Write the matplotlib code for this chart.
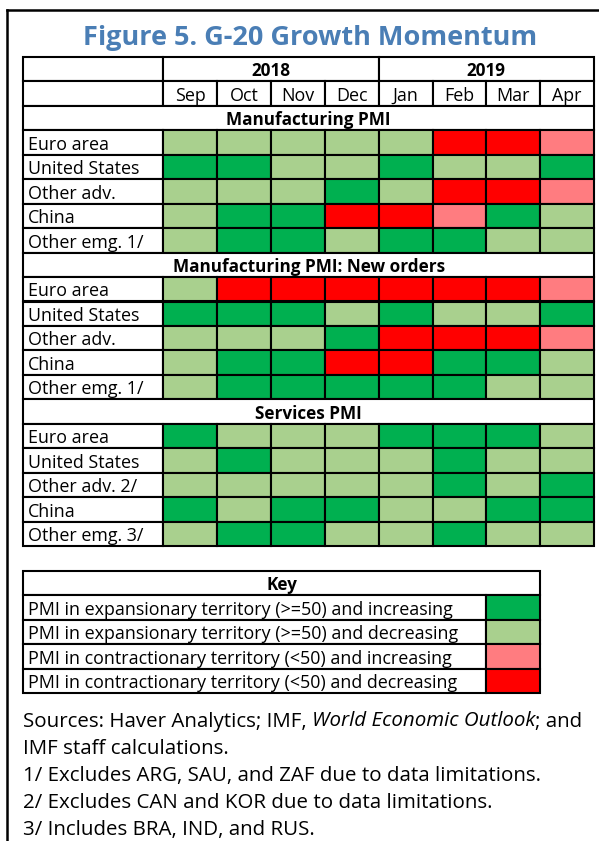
import matplotlib
matplotlib.use("Agg")
import matplotlib.pyplot as plt
from matplotlib.patches import Rectangle

plt.rcParams["font.family"] = ["Open Sans", "DejaVu Sans"]

# ---------------- data ----------------
title = "Figure 5. G-20 Growth Momentum"
years = ["2018", "2019"]
year_spans = [4, 4]
months = ["Sep", "Oct", "Nov", "Dec", "Jan", "Feb", "Mar", "Apr"]
sections = ["Manufacturing PMI", "Manufacturing PMI: New orders", "Services PMI"]

# status codes: 0 = expansion & increasing, 1 = expansion & decreasing,
#               2 = contraction & increasing, 3 = contraction & decreasing
mfg_rows = ["Euro area", "United States", "Other adv.", "China", "Other emg. 1/"]
mfg_status = [
    [1, 1, 1, 1, 1, 3, 3, 2],
    [0, 0, 1, 1, 0, 1, 1, 0],
    [1, 1, 1, 0, 1, 3, 3, 2],
    [1, 0, 0, 3, 3, 2, 0, 1],
    [1, 0, 0, 1, 0, 0, 1, 1],
]
orders_rows = ["Euro area", "United States", "Other adv.", "China", "Other emg. 1/"]
orders_status = [
    [1, 3, 3, 3, 3, 3, 3, 2],
    [0, 0, 0, 1, 0, 1, 1, 0],
    [1, 1, 1, 0, 3, 3, 3, 2],
    [1, 0, 0, 3, 3, 0, 0, 1],
    [1, 0, 0, 0, 0, 0, 1, 1],
]
serv_rows = ["Euro area", "United States", "Other adv. 2/", "China", "Other emg. 3/"]
serv_status = [
    [0, 1, 1, 1, 0, 0, 0, 1],
    [1, 0, 1, 1, 1, 0, 1, 1],
    [1, 1, 1, 1, 1, 0, 1, 0],
    [0, 1, 0, 0, 1, 1, 0, 0],
    [1, 0, 0, 1, 1, 0, 1, 1],
]
section_rows = [mfg_rows, orders_rows, serv_rows]
section_status = [mfg_status, orders_status, serv_status]

key_title = "Key"
key_labels = [
    "PMI in expansionary territory (>=50) and increasing",
    "PMI in expansionary territory (>=50) and decreasing",
    "PMI in contractionary territory (<50) and increasing",
    "PMI in contractionary territory (<50) and decreasing",
]
status_colors = ["#00B050", "#A9D08E", "#FF7C80", "#FF0000"]

sources_parts = [
    ("Sources: Haver Analytics; IMF, ", "normal"),
    ("World Economic Outlook", "italic"),
    ("; and", "normal"),
]
notes = [
    "IMF staff calculations.",
    "1/ Excludes ARG, SAU, and ZAF due to data limitations.",
    "2/ Excludes CAN and KOR due to data limitations.",
    "3/ Includes BRA, IND, and RUS.",
]

# ---------------- figure ----------------
W, H = 599, 841
fig = plt.figure(figsize=(W / 100, H / 100), dpi=100)
ax = fig.add_axes([0, 0, 1, 1])
ax.set_xlim(0, W)
ax.set_ylim(H, 0)
ax.axis("off")
fig.canvas.draw()
R = fig.canvas.get_renderer()

LW = 1.5
TITLE_COLOR = "#4A7EB5"


def fit_size(text, target, weight="normal", style="normal", base=12.0):
    t = ax.text(0, 0, text, fontsize=base, fontweight=weight, fontstyle=style)
    w = t.get_window_extent(renderer=R).width
    t.remove()
    return base * target / w


def text_width(text, size, weight="normal", style="normal"):
    t = ax.text(0, 0, text, fontsize=size, fontweight=weight, fontstyle=style)
    w = t.get_window_extent(renderer=R).width
    t.remove()
    return w


fs_label = fit_size("United States", 111)
fs_bold = fit_size("Manufacturing PMI: New orders", 271, weight="bold")
fs_key = fit_size(key_labels[1], 430)
fs_note = fit_size(notes[1], 515)
fs_title = fit_size(title, 454, weight="bold")

# outer frame (left and top only visible)
ax.plot([7, 7], [10, H + 5], color="black", lw=1.8, solid_capstyle="projecting")
ax.plot([7, W + 5], [10, 10], color="black", lw=1.8, solid_capstyle="projecting")

# title
ax.text(310, 45, title, fontsize=fs_title, fontweight="bold", color=TITLE_COLOR,
        ha="center", va="baseline")

# table geometry
x_left, x_name = 23.0, 163.0
col_w = (594.2 - x_name) / len(months)
col_edges = [x_name + i * col_w for i in range(len(months) + 1)]
x_right = col_edges[-1]
top = 57.0
rh = 24.45


def cell(x0, x1, y0, fc="white"):
    ax.add_patch(Rectangle((x0, y0), x1 - x0, rh, facecolor=fc, edgecolor="black",
                           lw=LW, joinstyle="miter"))


row = 0
# year row
y0 = top + row * rh
cell(x_left, x_name, y0)
start = 0
for yr, span in zip(years, year_spans):
    xa, xb = col_edges[start], col_edges[start + span]
    cell(xa, xb, y0)
    ax.text((xa + xb) / 2, y0 + rh - 5.2, yr, fontsize=fs_bold, fontweight="bold",
            ha="center", va="baseline")
    start += span
row += 1
# month row
y0 = top + row * rh
cell(x_left, x_name, y0)
for j, m in enumerate(months):
    cell(col_edges[j], col_edges[j + 1], y0)
    ax.text((col_edges[j] + col_edges[j + 1]) / 2, y0 + rh - 5.0, m, fontsize=fs_label,
            ha="center", va="baseline")
row += 1

for sec, labels, status in zip(sections, section_rows, section_status):
    y0 = top + row * rh
    cell(x_left, x_right, y0)
    ax.text((x_left + x_right) / 2, y0 + rh - 5.2, sec, fontsize=fs_bold,
            fontweight="bold", ha="center", va="baseline")
    row += 1
    for lab, vals in zip(labels, status):
        y0 = top + row * rh
        cell(x_left, x_name, y0)
        ax.text(x_left + 4.5, y0 + rh - 5.0, lab, fontsize=fs_label,
                ha="left", va="baseline")
        for j, v in enumerate(vals):
            cell(col_edges[j], col_edges[j + 1], y0, fc=status_colors[v])
        row += 1

# key table
k_top = 571.0
k_left, k_sw, k_right = 23.0, col_edges[6], col_edges[7]
y0 = k_top
cell(k_left, k_right, y0)
ax.text((k_left + k_right) / 2, y0 + rh - 5.2, key_title, fontsize=fs_bold,
        fontweight="bold", ha="center", va="baseline")
for i, lab in enumerate(key_labels):
    y0 = k_top + (i + 1) * rh
    cell(k_left, k_sw, y0)
    cell(k_sw, k_right, y0, fc=status_colors[i])
    ax.text(k_left + 5, y0 + rh - 5.0, lab, fontsize=fs_key, ha="left", va="baseline")

# footnotes
base_y = 726.5
line_gap = 27.0
x = 23.0
for txt, st in sources_parts:
    ax.text(x, base_y, txt, fontsize=fs_note, fontstyle=st, ha="left", va="baseline")
    x += text_width(txt, fs_note, style=st)
for i, n in enumerate(notes):
    ax.text(23.0, base_y + (i + 1) * line_gap, n, fontsize=fs_note, ha="left",
            va="baseline")

fig.savefig("out.png", dpi=100)
